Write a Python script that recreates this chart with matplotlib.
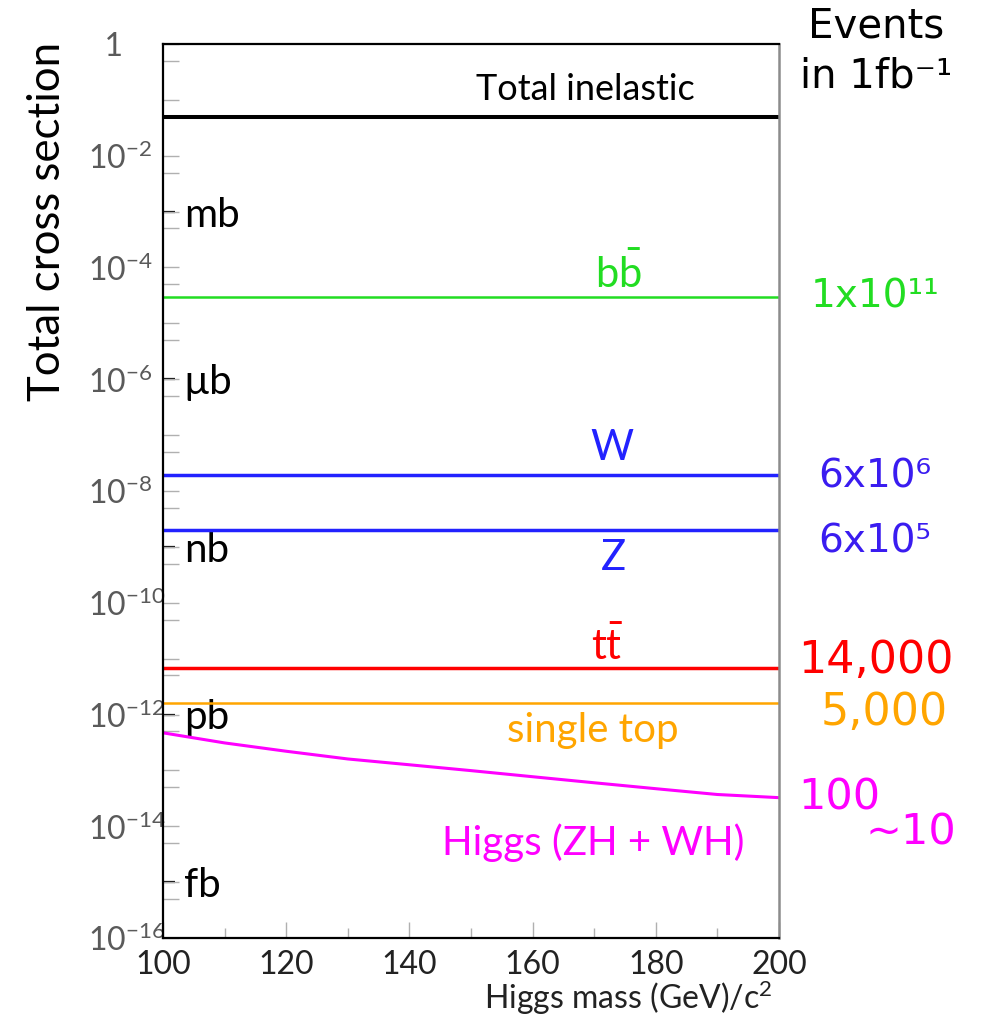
import numpy as np
import matplotlib
matplotlib.use('Agg')
import matplotlib.pyplot as plt
from matplotlib.ticker import NullLocator

plt.rcParams['font.family'] = ['Lato', 'DejaVu Sans']
plt.rcParams['mathtext.fontset'] = 'custom'
plt.rcParams['mathtext.rm'] = 'Lato'
plt.rcParams['mathtext.it'] = 'Lato:italic'
plt.rcParams['mathtext.bf'] = 'Lato:bold'

# --- data (cross sections in barn) ---
process_names = ['Total inelastic', r'$\mathrm{b\bar{b}}$', 'W', 'Z', r'$\mathrm{t\bar{t}}$', 'single top']
process_sigma = [5.0e-2, 3.0e-5, 1.9e-8, 2.0e-9, 6.9e-12, 1.6e-12]
process_colors = ['black', '#22dd22', '#2222ff', '#2222ff', '#ff0000', '#ffa500']
process_lw = [2.9, 1.8, 2.5, 2.5, 2.5, 1.8]

higgs_mass = [100, 110, 120, 130, 140, 150, 160, 170, 180, 190, 200]
higgs_sigma = [4.7e-13, 3.1e-13, 2.2e-13, 1.6e-13, 1.26e-13, 9.9e-14,
               7.7e-14, 6.0e-14, 4.7e-14, 3.7e-14, 3.25e-14]
higgs_color = '#ff00ff'

# events in 1 fb^-1 (label, value of the line it belongs to)
event_labels = ['1x10¹¹', '6x10⁶', '6x10⁵', '14,000', '5,000']
event_sigma = [3.0e-5, 1.9e-8, 2.0e-9, 6.9e-12, 1.6e-12]
event_colors = ['#22dd22', '#3a1cf0', '#3a1cf0', '#ff0000', '#ffa500']
higgs_events = ['100', '~10']

decade_ticks = [10.0 ** -k for k in range(0, 17)]
half_ticks = [5 * 10.0 ** -k for k in range(1, 17)]
decade_labels = {0: '  1'}
for k in range(2, 17, 2):
    decade_labels[k] = r'$\mathregular{10^{-%d}}$' % k

unit_ticks = [1e-3, 1e-6, 1e-9, 1e-12, 1e-15]
unit_labels = ['mb', 'µb', 'nb', 'pb', 'fb']

x_major = [100, 120, 140, 160, 180, 200]
x_minor = [110, 130, 150, 170, 190]

# --- figure ---
fig = plt.figure(figsize=(9.83, 10.18), dpi=100)
ax = fig.add_axes([163 / 983, 80 / 1018, 616 / 983, 894 / 1018])
ax.set_yscale('log')
ax.set_xlim(100, 200)
ax.set_ylim(1e-16, 1)

for s, c, lw in zip(process_sigma, process_colors, process_lw):
    ax.axhline(s, color=c, lw=lw)
ax.plot(higgs_mass, higgs_sigma, color=higgs_color, lw=2.2)

# y ticks: decades and 5x, labels only on even decades
yt = sorted(decade_ticks + half_ticks)
ylabs = []
for v in yt:
    lg = -np.log10(v)
    k = int(round(lg))
    ylabs.append(decade_labels.get(k, '') if abs(lg - k) < 1e-6 else '')
ax.set_yticks(yt, ylabs)
ax.yaxis.set_minor_locator(NullLocator())
ax.tick_params(axis='y', which='major', direction='in', length=11.5, width=1.0,
               color='#b0b0b0', pad=54, labelsize=23, labelcolor='#5a5a5a')
for lab in ax.get_yticklabels():
    lab.set_ha('left')

# unit ticks (mb, µb, ...) drawn inside the frame
sec = ax.secondary_yaxis('left')
sec.set_yticks(unit_ticks, unit_labels)
sec.yaxis.set_minor_locator(NullLocator())
sec.spines['left'].set_visible(False)
sec.tick_params(axis='y', direction='in', length=8.6, width=1.6, color='black',
                pad=-15, labelsize=29, labelcolor='black')
for lab in sec.get_yticklabels():
    lab.set_ha('left')

ax.set_xticks(x_major)
ax.set_xticks(x_minor, minor=True)
ax.tick_params(axis='x', which='major', direction='in', length=11.5, width=1.0,
               color='#b0b0b0', pad=9, labelsize=23, labelcolor='#222222')
ax.tick_params(axis='x', which='minor', direction='in', length=7, width=1.0,
               color='#b0b0b0')

for side in ['left', 'bottom', 'top']:
    ax.spines[side].set_linewidth(1.6)
    ax.spines[side].set_color('black')
ax.spines['right'].set_linewidth(1.8)
ax.spines['right'].set_color('#8c8c8c')

ax.set_ylabel('Total cross section', fontsize=31.5, loc='top')
ax.yaxis.set_label_coords(-0.155, 1.002)
ax.set_xlabel(r'Higgs mass (GeV)/c$^{2}$', fontsize=23, loc='right', color='#222222')
ax.xaxis.label.set_va('baseline')
ax.xaxis.set_label_coords(0.99, -0.0795)

# process labels inside the frame (axes fraction, baseline)
label_pos = [(0.685, 0.937, 26), (0.739, 0.727, 30), (0.729, 0.535, 30),
             (0.731, 0.412, 30), (0.722, 0.311, 30), (0.698, 0.219, 29)]
for name, c, (xf, yf, fs) in zip(process_names, process_colors, label_pos):
    ax.text(xf, yf, name, color=c, fontsize=fs, ha='center', va='baseline',
            transform=ax.transAxes)
ax.text(0.698, 0.093, 'Higgs (ZH + WH)', color=higgs_color, fontsize=29,
        ha='center', va='baseline', transform=ax.transAxes)

# events column
fig.text(0.891, 1 - 38 / 1018, 'Events', fontsize=29, ha='center', va='baseline',
         family='DejaVu Sans')
fig.text(0.891, 1 - 87 / 1018, 'in 1fb⁻¹', fontsize=29, ha='center', va='baseline',
         family='DejaVu Sans')

ev_offsets = [(69, -8, 28), (69, -8.6, 28), (69, -16, 28), (70, -3.6, 32), (75.6, -16, 32)]
for lab, s, c, (dx, dy, fs) in zip(event_labels, event_sigma, event_colors, ev_offsets):
    ax.annotate(lab, xy=(1, s), xycoords=('axes fraction', 'data'),
                xytext=(dx, dy), textcoords='offset points', color=c,
                fontsize=fs, ha='center', va='baseline', family='DejaVu Sans',
                annotation_clip=False)
ax.annotate(higgs_events[0], xy=(1, higgs_sigma[-1]), xycoords=('axes fraction', 'data'),
            xytext=(13.7, -8.6), textcoords='offset points', color=higgs_color,
            fontsize=31, ha='left', va='baseline', family='DejaVu Sans',
            annotation_clip=False)
ax.annotate(higgs_events[1], xy=(1, higgs_sigma[-1]), xycoords=('axes fraction', 'data'),
            xytext=(62, -34), textcoords='offset points', color=higgs_color,
            fontsize=31, ha='left', va='baseline', family='DejaVu Sans',
            annotation_clip=False)

fig.savefig('out.png', dpi=100)
